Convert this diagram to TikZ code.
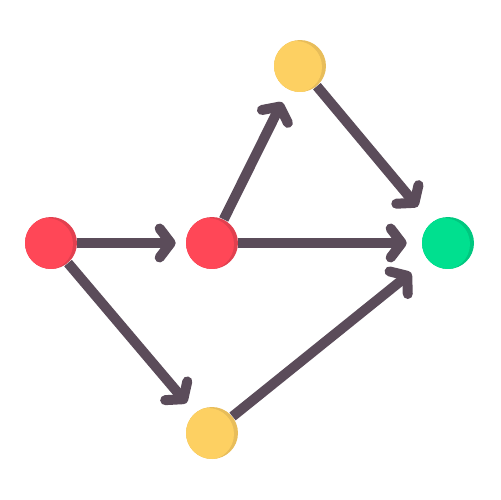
\documentclass[tikz,border=0pt]{standalone}
\usetikzlibrary{arrows.meta}
\definecolor{linegray}{HTML}{5B4C5A}
\definecolor{redlight}{HTML}{FF4757}
\definecolor{reddark}{HTML}{E2404F}
\definecolor{yellowlight}{HTML}{FDD062}
\definecolor{yellowdark}{HTML}{E8BD5A}
\definecolor{greenlight}{HTML}{00E08F}
\definecolor{greendark}{HTML}{00C77F}

\tikzset{
  dot/.style 2 args={circle, minimum size=1.04cm, inner sep=0pt, fill=#2,
    path picture={\fill[#1] ([xshift=-0.08cm,yshift=-0.02cm]path picture bounding box.center) circle (0.52cm);}},
  link/.style={draw=linegray, line width=0.2cm,
    -{Straight Barb[length=0.22cm,width=0.58cm,line cap=round,line join=round]}}
}

\begin{document}
\begin{tikzpicture}[x=0.02cm,y=-0.02cm]
\useasboundingbox (0,0) rectangle (500,500);
% the five dots
\foreach \name/\x/\y/\light/\dark in {
    r1/51/243/redlight/reddark,
    r2/212/243/redlight/reddark,
    y1/300/66/yellowlight/yellowdark,
    y2/212/433/yellowlight/yellowdark,
    g/448/243/greenlight/greendark}
  \node[dot={\light}{\dark}] (\name) at (\x,\y) {};
% arrows between them
\foreach \from/\to/\gap in {
    r1/r2/0.2cm,
    r2/y1/0.28cm,
    r2/g/0.3cm,
    y1/g/0.42cm,
    r1/y2/0.26cm,
    y2/g/0.42cm}
  \draw[link, shorten >=\gap] (\from) -- (\to);
\end{tikzpicture}
\end{document}
